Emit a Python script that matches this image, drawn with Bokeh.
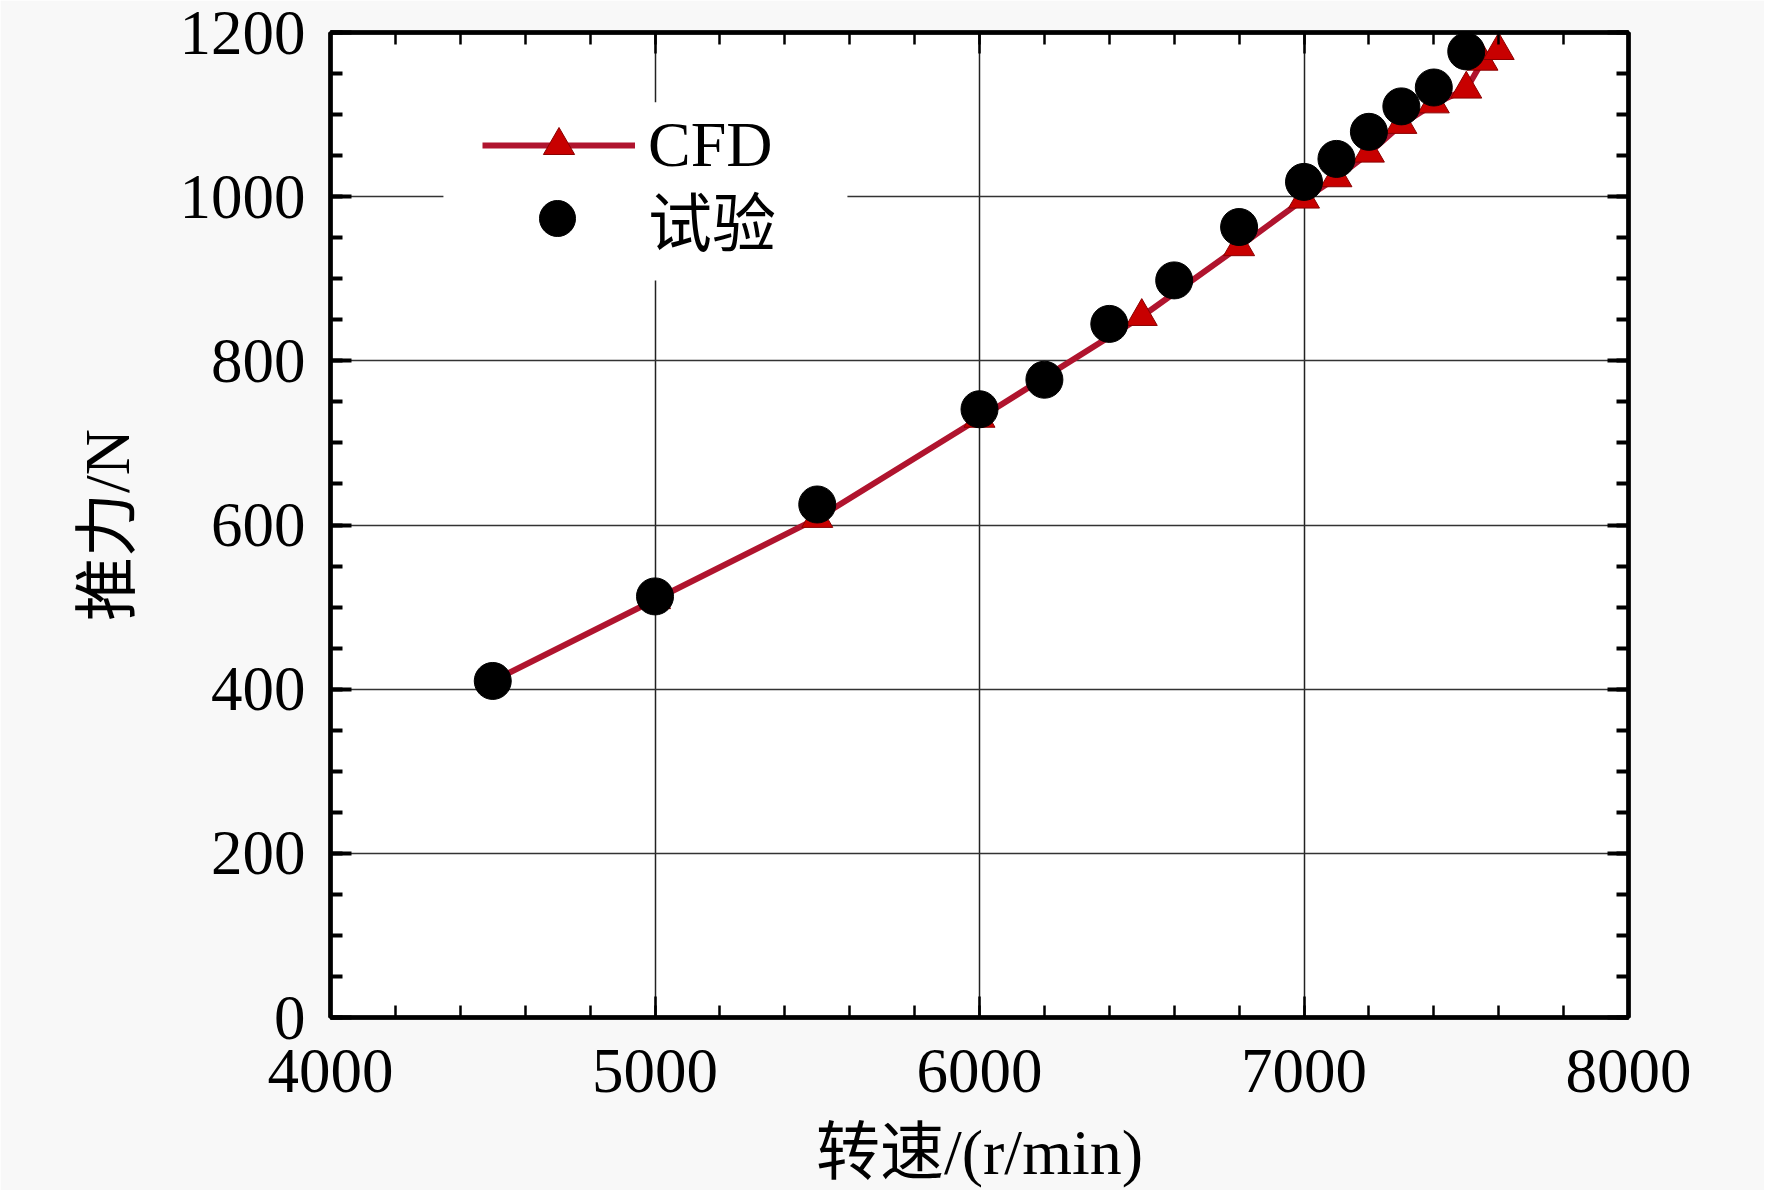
from bokeh.plotting import figure
from bokeh.models import (Legend, LegendItem, LinearAxis, SingleIntervalTicker,
                          FixedTicker, Range1d, BoxAnnotation, CustomLabelingPolicy)
from bokeh.embed import file_html
from bokeh.resources import INLINE

# ---- data ----
cfd_speed = [4500, 5000, 5500, 6000, 6500, 6800, 7000, 7100, 7200, 7300, 7400, 7500, 7550, 7600]
cfd_thrust = [410, 509, 608, 730, 854, 939, 997, 1023, 1053, 1088, 1113, 1131, 1165, 1178]

exp_speed = [4500, 5000, 5500, 6000, 6200, 6400, 6600, 6800, 7000, 7100, 7200, 7300, 7400, 7500]
exp_thrust = [410, 513, 625, 741, 777, 845, 898, 963, 1018, 1046, 1079, 1110, 1133, 1177]

x_grid_ticks = [5000, 6000, 7000]
x_label = "转速/(r/min)"
y_label = "推力/N"
series_names = ["CFD", "试验"]

FONT = "Liberation Serif, Noto Sans CJK SC"
LINE_COLOR = "#B0142E"
TRI_COLOR = "#C80000"

p = figure(width=1764, height=1190,
           x_range=Range1d(4000, 8000), y_range=Range1d(0, 1200),
           output_backend="svg", toolbar_location=None,
           min_border_left=330, min_border_right=136,
           min_border_top=32, min_border_bottom=173,
           background_fill_color="white", border_fill_color="#F8F8F8",
           x_axis_label=x_label, y_axis_label=y_label)

p.outline_line_color = "black"
p.outline_line_width = 4

xt = SingleIntervalTicker(interval=1000, num_minor_ticks=5)
yt = SingleIntervalTicker(interval=200, num_minor_ticks=4)

hide_labels = CustomLabelingPolicy(code="""
const n = indices.size;
for (let i = 0; i < n; i++) { indices.unset(i); }
return indices;
""")

def style_axis(ax, ticker, tick_w, show_labels=True):
    ax.ticker = ticker
    ax.axis_line_color = "black"
    ax.axis_line_width = 4.5
    ax.major_tick_in = 21
    ax.major_tick_out = 0
    ax.minor_tick_in = 12
    ax.minor_tick_out = 0
    ax.major_tick_line_color = "black"
    ax.minor_tick_line_color = "black"
    ax.major_tick_line_width = tick_w
    ax.minor_tick_line_width = tick_w
    if show_labels:
        ax.major_label_text_font = FONT
        ax.major_label_text_font_size = "63px"
        ax.major_label_text_color = "black"
        ax.axis_label_text_font = FONT
        ax.axis_label_text_font_size = "64px"
        ax.axis_label_text_font_style = "normal"
        ax.axis_label_text_color = "black"
    else:
        ax.major_label_policy = hide_labels
        ax.major_label_standoff = 0

style_axis(p.xaxis[0], xt, 2.5)
p.xaxis[0].major_label_standoff = 32
p.xaxis[0].axis_label_standoff = 22

style_axis(p.yaxis[0], yt, 4)
p.yaxis[0].major_label_standoff = 25
p.yaxis[0].axis_label_standoff = 34

top_ax = LinearAxis()
style_axis(top_ax, SingleIntervalTicker(interval=1000, num_minor_ticks=5), 2.5, show_labels=False)
p.add_layout(top_ax, "above")
right_ax = LinearAxis()
style_axis(right_ax, SingleIntervalTicker(interval=200, num_minor_ticks=4), 4, show_labels=False)
p.add_layout(right_ax, "right")

p.xgrid.ticker = FixedTicker(ticks=x_grid_ticks)
p.xgrid.grid_line_color = "#222222"
p.xgrid.grid_line_width = 1.5
p.ygrid.ticker = SingleIntervalTicker(interval=200)
p.ygrid.grid_line_color = "#333333"
p.ygrid.grid_line_width = 1.5

# ---- glyphs ----
cfd_line = p.line(cfd_speed, cfd_thrust, line_color=LINE_COLOR, line_width=6)
cfd_mark = p.scatter(cfd_speed, cfd_thrust, marker="triangle", size=31,
                     fill_color=TRI_COLOR, line_color="#8B0000", line_width=1)
exp_mark = p.scatter(exp_speed, exp_thrust, marker="circle", size=37,
                     fill_color="black", line_color="black")

# white area behind legend
p.add_layout(BoxAnnotation(left=4348, right=5593, bottom=898, top=1115,
                           fill_color="white", fill_alpha=1.0, line_alpha=0))

def make_legend(items, loc, gw, gh, standoff):
    lg = Legend(items=items, location=loc, padding=0, margin=0, spacing=0,
                glyph_width=gw, glyph_height=gh, label_standoff=standoff,
                label_text_font=FONT, label_text_font_size="64px",
                label_text_color="black", border_line_alpha=0,
                background_fill_alpha=0)
    return lg

leg1 = make_legend([LegendItem(label=series_names[0], renderers=[cfd_line, cfd_mark])],
                   (152, 833), 153, 78, 13)
leg2 = make_legend([LegendItem(label=series_names[1], renderers=[exp_mark])],
                   (182, 753), 90, 90, 46)
p.add_layout(leg1, "center")
p.add_layout(leg2, "center")

open("out.html", "w").write(file_html(p, INLINE))
